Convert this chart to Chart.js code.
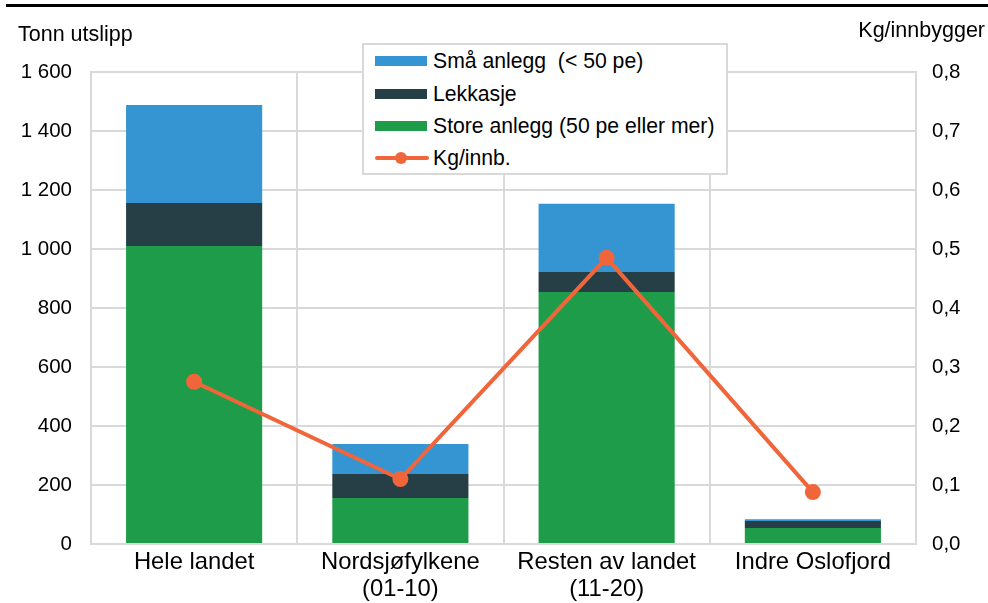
<!DOCTYPE html>
<html>
<head>
<meta charset="utf-8">
<script src="https://cdn.jsdelivr.net/npm/chart.js@4/dist/chart.umd.min.js"></script>
<style>
  html, body { margin: 0; padding: 0; background: #fff; }
  body { font-family: "Liberation Sans", Arial, sans-serif; color: #000; }
  #wrap { position: relative; width: 988px; height: 603px; }
  #topRule { position: absolute; left: 6px; right: 0; top: 4px; height: 3px; background: #000; }
  .axisTitle { position: absolute; font-size: 21.5px; line-height: 24px; white-space: nowrap; }
  #leftTitle { left: 18px; top: 22px; }
  #rightTitle { right: 3px; top: 18px; }
  #legend {
    position: absolute; left: 362px; top: 43px; width: 362px; height: 128px;
    border: 2px solid #d9d9d9; background: #fff; box-sizing: content-box;
  }
  .item { position: absolute; left: 11px; height: 24px; display: flex; align-items: center; font-size: 21.2px; white-space: nowrap; }
  .sw { width: 52px; height: 10px; margin-right: 6px; }
  .lineSw { width: 54px; height: 16px; margin-right: 4px; position: relative; }
  .lineSw .l { position: absolute; left: 0; right: 0; top: 6px; height: 4px; background: #f0663a; border-radius: 2px; }
  .lineSw .d { position: absolute; left: 20px; top: 2px; width: 12px; height: 12px; border-radius: 50%; background: #f0663a; }
  canvas { position: absolute; left: 0; top: 0; }
</style>
</head>
<body>
<div id="wrap">
  <canvas id="chart" width="988" height="603"></canvas>
  <div id="topRule"></div>
  <div class="axisTitle" id="leftTitle">Tonn utslipp</div>
  <div class="axisTitle" id="rightTitle">Kg/innbygger</div>
  <div id="legend">
    <div class="item" style="top:4px"><div class="sw" style="background:#3595d2"></div>Små anlegg&nbsp; (&lt; 50 pe)</div>
    <div class="item" style="top:37px"><div class="sw" style="background:#263f47"></div>Lekkasje</div>
    <div class="item" style="top:69px"><div class="sw" style="background:#1e9c4a"></div>Store anlegg (50 pe eller mer)</div>
    <div class="item" style="top:101px"><div class="lineSw"><div class="l"></div><div class="d"></div></div>Kg/innb.</div>
  </div>
</div>
<script>
// Regions
const categories = ['Hele landet', ['Nordsjøfylkene', '(01-10)'], ['Resten av landet', '(11-20)'], 'Indre Oslofjord'];

// Emissions, tonnes
const storeAnlegg = [1010, 156, 854, 54];
const lekkasje = [146, 81, 68, 24];
const smaaAnlegg = [332, 102, 231, 6];

// Emissions per inhabitant, kg
const kgPerInnbygger = [0.275, 0.110, 0.485, 0.088];

// Axis ticks
const leftTicks = [0, 200, 400, 600, 800, 1000, 1200, 1400, 1600];
const rightTicks = [0, 0.1, 0.2, 0.3, 0.4, 0.5, 0.6, 0.7, 0.8];

const gridColor = '#d9d9d9';
const family = '"Liberation Sans", Arial, sans-serif';
const tickFont = { family, size: 20.5 };

const fmtThousands = v => String(v).replace(/\B(?=(\d{3})+(?!\d))/g, ' ');
const fmtDecimal = v => v.toFixed(1).replace('.', ',');

new Chart(document.getElementById('chart'), {
  data: {
    labels: categories,
    datasets: [
      {
        type: 'line', label: 'Kg/innb.', data: kgPerInnbygger, yAxisID: 'y1', order: 0,
        borderColor: '#f0663a', backgroundColor: '#f0663a', borderWidth: 4,
        pointRadius: 8, pointHoverRadius: 8, pointBackgroundColor: '#f0663a', pointBorderWidth: 0,
        tension: 0
      },
      { type: 'bar', label: 'Store anlegg (50 pe eller mer)', data: storeAnlegg, backgroundColor: '#1e9c4a', yAxisID: 'y', order: 1 },
      { type: 'bar', label: 'Lekkasje', data: lekkasje, backgroundColor: '#263f47', yAxisID: 'y', order: 1 },
      { type: 'bar', label: 'Små anlegg  (< 50 pe)', data: smaaAnlegg, backgroundColor: '#3595d2', yAxisID: 'y', order: 1 }
    ]
  },
  options: {
    responsive: false,
    animation: false,
    layout: { padding: { top: 72, left: 0, right: 0, bottom: 0 } },
    datasets: { bar: { categoryPercentage: 1.0, barPercentage: 0.66, stack: 's' } },
    plugins: { legend: { display: false }, tooltip: { enabled: false } },
    scales: {
      x: {
        stacked: true,
        offset: true,
        grid: { color: gridColor, lineWidth: 2, offset: true, drawTicks: false },
        border: { color: gridColor, width: 2 },
        ticks: { color: '#000', font: { family, size: 23.8, lineHeight: 1.13 }, padding: 5, maxRotation: 0, autoSkip: false },
        afterFit: s => { s.height = 59; }
      },
      y: {
        stacked: true,
        position: 'left',
        min: 0, max: 1600,
        afterBuildTicks: s => { s.ticks = leftTicks.map(v => ({ value: v })); },
        grid: { color: gridColor, lineWidth: 2, drawTicks: false },
        border: { color: gridColor, width: 2 },
        ticks: { color: '#000', font: tickFont, padding: 19, callback: v => fmtThousands(v) },
        afterFit: s => { s.width = 91; }
      },
      y1: {
        position: 'right',
        min: 0, max: 0.8,
        afterBuildTicks: s => { s.ticks = rightTicks.map(v => ({ value: v })); },
        grid: { display: false, drawTicks: false },
        border: { color: gridColor, width: 2 },
        ticks: { color: '#000', font: tickFont, padding: 16, callback: v => fmtDecimal(v) },
        afterFit: s => { s.width = 72; }
      }
    }
  }
});
</script>
</body>
</html>
